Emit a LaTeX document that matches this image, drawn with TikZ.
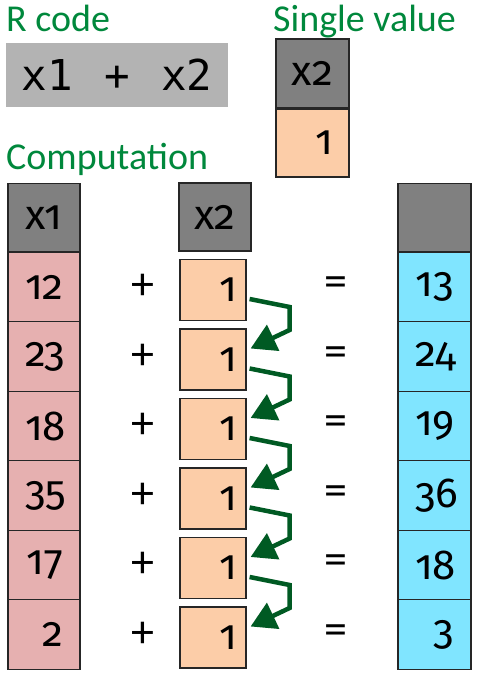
\documentclass[tikz,border=0pt]{standalone}
\usepackage{fontspec}
\setmainfont{Carlito}
\newfontfamily\numfont[Numbers={OldStyle,Proportional}]{Fira Sans}
\newfontfamily\codefont{DejaVu Sans Mono}
\usepackage{tikz}
\usetikzlibrary{arrows.meta}
\usetikzlibrary{calc}
\definecolor{hdgray}{RGB}{128,128,128}
\definecolor{codegray}{RGB}{179,179,179}
\definecolor{xpink}{RGB}{230,176,176}
\definecolor{xorange}{RGB}{252,205,168}
\definecolor{xblue}{RGB}{128,229,255}
\definecolor{lblgreen}{RGB}{0,136,60}
\definecolor{arrgreen}{RGB}{0,90,35}
\tikzstyle{lbl} = [text=lblgreen,font=\fontsize{38}{38}\selectfont,inner sep=0,anchor=base west]
\tikzstyle{hd} = [draw=black!85,line width=1.2pt,fill=hdgray,minimum width=72,minimum height=68,inner sep=0,font=\numfont\fontsize{42}{42}\selectfont]
\tikzstyle{a} = [draw=black!85,line width=1.2pt,fill=xpink,text width=38pt,align=right,inner xsep=17pt,inner ysep=0,minimum height=69.5,font=\numfont\fontsize{42}{42}\selectfont]
\tikzstyle{b} = [draw=black!85,line width=1.2pt,fill=xorange,text width=48pt,align=right,inner xsep=9pt,inner ysep=0,minimum height=61,font=\numfont\fontsize{42}{42}\selectfont]
\tikzstyle{r} = [draw=black!85,line width=1.2pt,fill=xblue,text width=39pt,align=right,inner xsep=17pt,inner ysep=0,minimum height=69.5,font=\numfont\fontsize{42}{42}\selectfont]
\tikzstyle{op} = [inner sep=0,font=\fontsize{46}{46}\selectfont]
\tikzstyle{loop arrow} = [arrgreen,line width=4.5pt,-{Triangle[length=25pt,width=28pt]}]
\begin{document}
\begin{tikzpicture}[x=1pt,y=-1pt]

\useasboundingbox (0,0) rectangle (484,679);

% Labels and R code

    \node[lbl] at (6,32) (rlabel) {R code};
    \node[lbl] at (273,32) (slabel) {Single value};
    \node[lbl] at (6,170) (clabel) {Computation};
    \node[fill=codegray,minimum width=222,minimum height=64,inner sep=0] at (117,75) (code)
        {\codefont\fontsize{42.5}{42.5}\selectfont x1\ \kern6pt+\ \kern6pt x2};

% Single value

    \node[hd,minimum width=73,minimum height=69] at (312.5,73.5) (sx) {x2};
    \node[b,minimum height=68,text width=41pt,inner xsep=16pt] at (312.5,143) (s1) {1};

% Columns

    \def\dy{69.5}
    \node[hd] at (44,217.5) (x1) {x1};
    \node[hd] at (215,217) (x2) {x2};
    \node[hd,minimum width=73] at (434.5,217.5) (y) {};

    \node[a] at (44,217.5+1*\dy) (a1) {12};
    \node[a] at (44,217.5+2*\dy) (a2) {23};
    \node[a] at (44,217.5+3*\dy) (a3) {18};
    \node[a] at (44,217.5+4*\dy) (a4) {35};
    \node[a] at (44,217.5+5*\dy) (a5) {17};
    \node[a] at (44,217.5+6*\dy) (a6) {2};

    \node[b] at (213,220.5+1*\dy) (b1) {1};
    \node[b] at (213,220.5+2*\dy) (b2) {1};
    \node[b] at (213,220.5+3*\dy) (b3) {1};
    \node[b] at (213,220.5+4*\dy) (b4) {1};
    \node[b] at (213,220.5+5*\dy) (b5) {1};
    \node[b] at (213,220.5+6*\dy) (b6) {1};

    \node[r] at (434.5,217.5+1*\dy) (r1) {13};
    \node[r] at (434.5,217.5+2*\dy) (r2) {24};
    \node[r] at (434.5,217.5+3*\dy) (r3) {19};
    \node[r] at (434.5,217.5+4*\dy) (r4) {36};
    \node[r] at (434.5,217.5+5*\dy) (r5) {18};
    \node[r] at (434.5,217.5+6*\dy) (r6) {3};

    \node[op] at (143,217.5+1*\dy) (p1) {+};
    \node[op] at (143,217.5+2*\dy) (p2) {+};
    \node[op] at (143,217.5+3*\dy) (p3) {+};
    \node[op] at (143,217.5+4*\dy) (p4) {+};
    \node[op] at (143,217.5+5*\dy) (p5) {+};
    \node[op] at (143,217.5+6*\dy) (p6) {+};

    \node[op] at (336,217.5+1*\dy) (e1) {=};
    \node[op] at (336,217.5+2*\dy) (e2) {=};
    \node[op] at (336,217.5+3*\dy) (e3) {=};
    \node[op] at (336,217.5+4*\dy) (e4) {=};
    \node[op] at (336,217.5+5*\dy) (e5) {=};
    \node[op] at (336,217.5+6*\dy) (e6) {=};

% Recycling arrows

    \draw[loop arrow] ($(b1.east)+(3,9)$) -- ++(40,8) -- ++(0,23) -- ($(b2.east)+(4,-11)$);
    \draw[loop arrow] ($(b2.east)+(3,9)$) -- ++(40,8) -- ++(0,23) -- ($(b3.east)+(4,-11)$);
    \draw[loop arrow] ($(b3.east)+(3,9)$) -- ++(40,8) -- ++(0,23) -- ($(b4.east)+(4,-11)$);
    \draw[loop arrow] ($(b4.east)+(3,9)$) -- ++(40,8) -- ++(0,23) -- ($(b5.east)+(4,-11)$);
    \draw[loop arrow] ($(b5.east)+(3,9)$) -- ++(40,8) -- ++(0,23) -- ($(b6.east)+(4,-11)$);

\end{tikzpicture}
\end{document}
